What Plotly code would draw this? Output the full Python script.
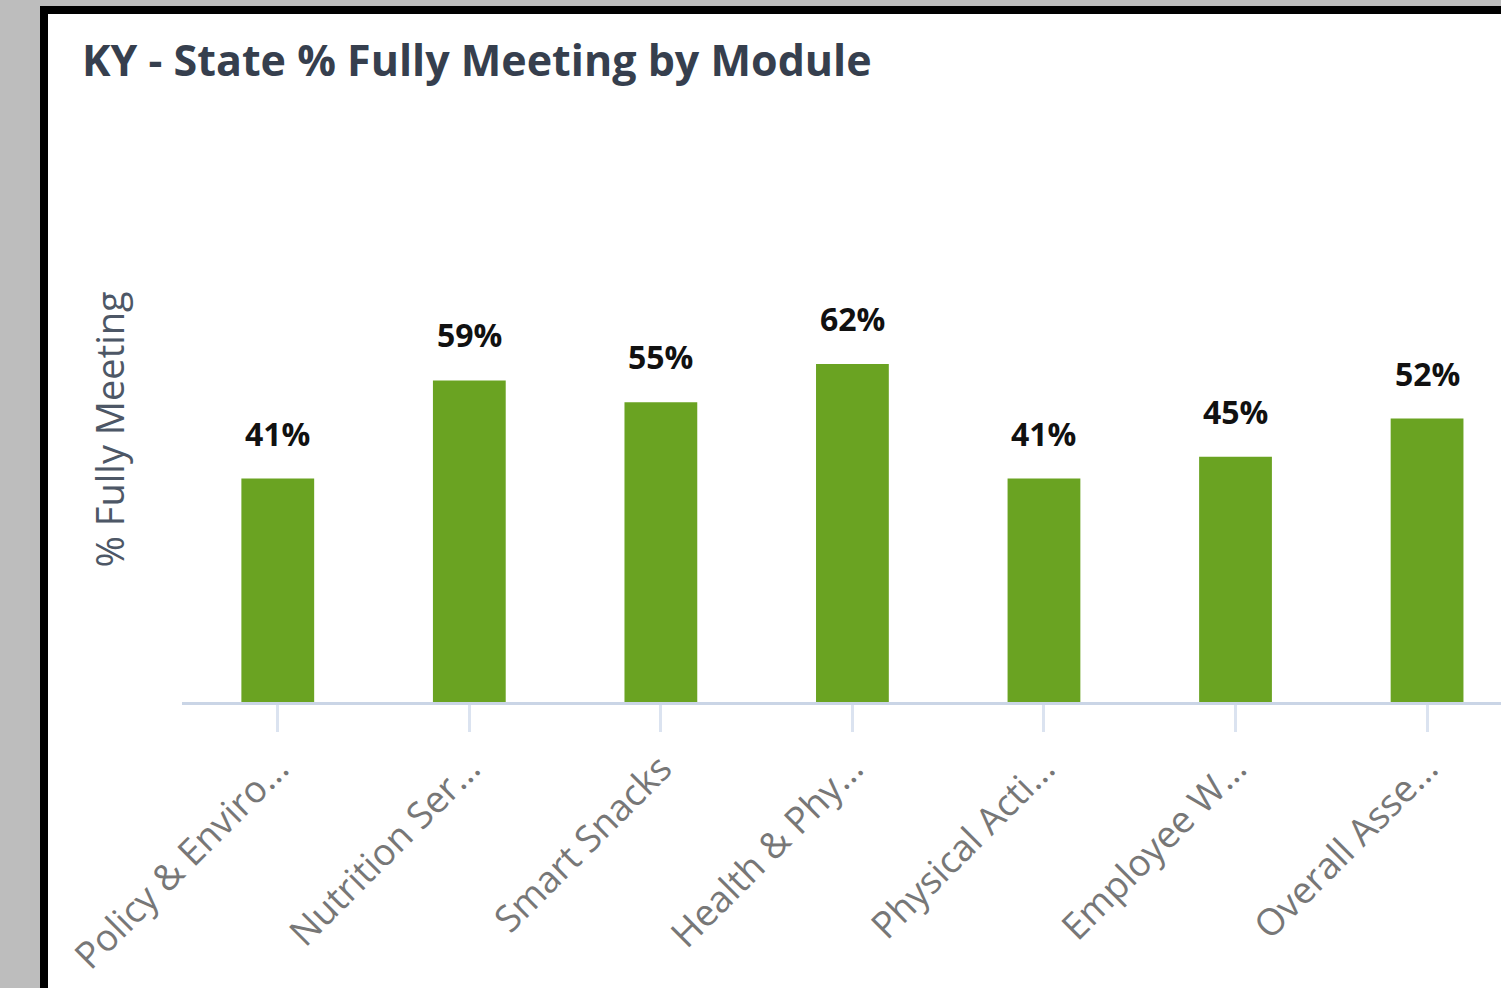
import plotly.graph_objects as go

categories = ["Policy & Enviro...", "Nutrition Ser...", "Smart Snacks", "Health & Phy...",
              "Physical Acti...", "Employee W...", "Overall Asse..."]
pct_fully_meeting = [41, 59, 55, 62, 41, 45, 52]
label_texts = [f"{v}%" for v in pct_fully_meeting]

W, H = 1501, 988
PL, PR, PT, PB = 182, 1501, 157, 702   # plot area in pixels


def px_x(p):
    return (p - PL) / (PR - PL)


def px_y(p):
    return (PB - p) / (PB - PT)


fig = go.Figure()
fig.add_trace(go.Bar(
    x=categories,
    y=pct_fully_meeting,
    marker=dict(color="#6aa322", line=dict(width=0)),
    hoverinfo="skip",
))

annotations = [
    dict(x=c, y=v, text=f"<b>{t}</b>", showarrow=False, yanchor="bottom",
         yshift=22, font=dict(family="Open Sans", size=32, color="#111111"))
    for c, v, t in zip(categories, pct_fully_meeting, label_texts)
]
annotations.append(dict(
    xref="paper", yref="paper", x=px_x(108), y=0.5, text="% Fully Meeting",
    textangle=-90, showarrow=False, xanchor="center", yanchor="middle",
    font=dict(family="Open Sans", size=38, color="#4d5766"),
))

shapes = [
    dict(type="rect", xref="paper", yref="paper", x0=px_x(0), x1=px_x(40), y0=px_y(H), y1=px_y(0),
         fillcolor="#bdbdbd", line=dict(width=0), layer="below"),
    dict(type="rect", xref="paper", yref="paper", x0=px_x(0), x1=px_x(W), y0=px_y(6), y1=px_y(0),
         fillcolor="#bdbdbd", line=dict(width=0), layer="below"),
    dict(type="rect", xref="paper", yref="paper", x0=px_x(40), x1=px_x(48), y0=px_y(H), y1=px_y(6),
         fillcolor="#000000", line=dict(width=0), layer="below"),
    dict(type="rect", xref="paper", yref="paper", x0=px_x(40), x1=px_x(W), y0=px_y(14), y1=px_y(6),
         fillcolor="#000000", line=dict(width=0), layer="below"),
]

fig.update_layout(
    width=W, height=H,
    margin=dict(l=PL, r=W - PR, t=PT, b=H - PB, pad=0),
    paper_bgcolor="#ffffff",
    plot_bgcolor="#ffffff",
    bargap=0.62,
    showlegend=False,
    title=dict(
        text="<b>KY - State % Fully Meeting by Module</b>",
        xref="container", x=82 / W, xanchor="left",
        yref="container", y=1 - 61 / H, yanchor="middle",
        font=dict(family="Open Sans", size=43, color="#363f4e"),
    ),
    xaxis=dict(
        type="category",
        range=[-0.5, 6.386],
        showline=True, linecolor="#cad5e6", linewidth=3,
        ticks="outside", ticklen=27, tickwidth=3, tickcolor="#dbe3f0",
        tickangle=-45,
        tickfont=dict(family="Open Sans", size=37, color="#777777"),
        showgrid=False, zeroline=False,
    ),
    yaxis=dict(
        range=[0, 100],
        showticklabels=False, showgrid=False, zeroline=False, showline=False,
    ),
    annotations=annotations,
    shapes=shapes,
)

fig.write_html(
    "out.html",
    config={"displayModeBar": False},
    post_script="document.body.style.margin='0';document.body.style.overflow='hidden';",
)
